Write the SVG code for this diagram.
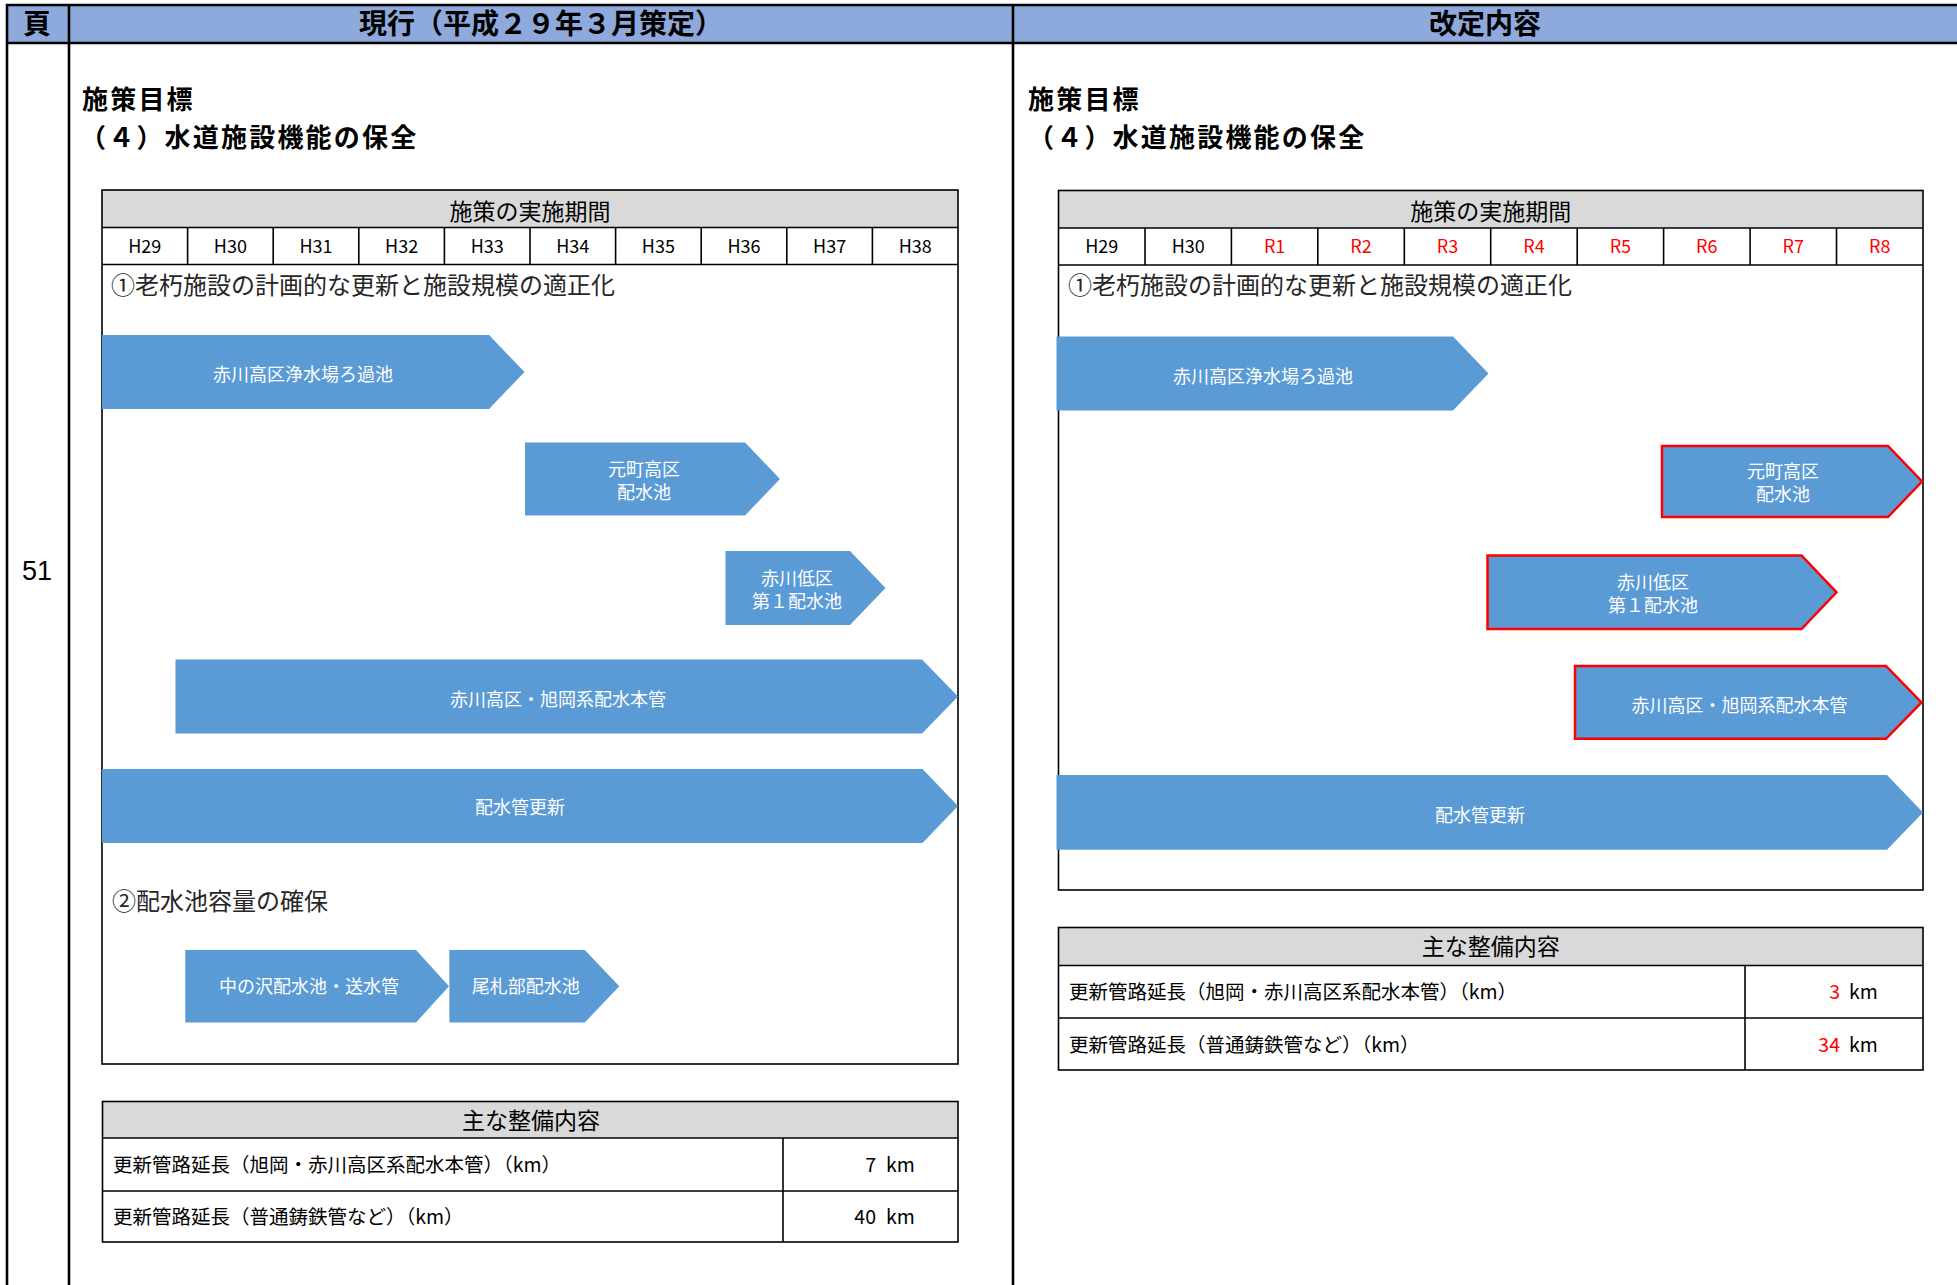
<svg xmlns="http://www.w3.org/2000/svg" width="1957" height="1285" viewBox="0 0 1957 1285">
<style>
  text { font-family: "Noto Sans CJK JP", "Noto Sans", sans-serif; fill: #000; }
  .hdr { font-size: 28px; font-weight: bold; text-anchor: middle; }
  .ttl { font-size: 26px; font-weight: bold; letter-spacing: 2.2px; }
  .sub { font-size: 23px; text-anchor: middle; }
  .yr { font-size: 18px; text-anchor: middle; }
  .red { fill: #FF0000; }
  .sec { font-size: 24px; fill: #262626; }
  .bar { fill: #5B9BD5; }
  .barR { fill: #5B9BD5; stroke: #FF0000; stroke-width: 2.5; }
  .bt { font-size: 18px; fill: #FFFFFF; text-anchor: middle; }
  .row { font-size: 19.5px; }
  .num { font-size: 19.5px; text-anchor: end; }
  .frame { fill: none; stroke: #000; stroke-width: 1.6; }
  .gray { fill: #D9D9D9; }
  .ln { stroke: #000; stroke-width: 1.6; }
  .pg { stroke: #000; stroke-width: 2.6; }
</style>

<g id="page">
  <rect x="6" y="5" width="1951" height="38" fill="#8EA9DB"/>
  <line class="pg" x1="6" y1="5" x2="1957" y2="5"/>
  <line class="pg" x1="6" y1="43" x2="1957" y2="43"/>
  <line class="pg" x1="7" y1="4" x2="7" y2="1285"/>
  <line class="pg" x1="69" y1="4" x2="69" y2="1285"/>
  <line class="pg" x1="1013" y1="4" x2="1013" y2="1285"/>
  <text class="hdr" x="37" y="34">頁</text>
  <text class="hdr" x="541" y="34">現行（平成２９年３月策定）</text>
  <text class="hdr" x="1485" y="34">改定内容</text>
  <text x="37" y="580" font-size="27" text-anchor="middle" style="font-family:'Liberation Sans',Arial,sans-serif">51</text>
</g>

<g id="left-title">
  <text class="ttl" x="82" y="109">施策目標</text>
  <text class="ttl" x="80" y="147">（４）水道施設機能の保全</text>
</g>

<g id="left-schedule">
  <rect class="gray" x="102" y="190" width="856" height="37.5"/>
  <rect class="frame" x="102" y="190" width="856" height="874"/>
  <line class="ln" x1="102" y1="227.5" x2="958" y2="227.5"/>
  <line class="ln" x1="102" y1="264.5" x2="958" y2="264.5"/>
  <line class="ln" x1="187.6" y1="227.5" x2="187.6" y2="264.5"/>
  <line class="ln" x1="273.2" y1="227.5" x2="273.2" y2="264.5"/>
  <line class="ln" x1="358.8" y1="227.5" x2="358.8" y2="264.5"/>
  <line class="ln" x1="444.4" y1="227.5" x2="444.4" y2="264.5"/>
  <line class="ln" x1="530" y1="227.5" x2="530" y2="264.5"/>
  <line class="ln" x1="615.6" y1="227.5" x2="615.6" y2="264.5"/>
  <line class="ln" x1="701.2" y1="227.5" x2="701.2" y2="264.5"/>
  <line class="ln" x1="786.8" y1="227.5" x2="786.8" y2="264.5"/>
  <line class="ln" x1="872.4" y1="227.5" x2="872.4" y2="264.5"/>
  <text class="sub" x="530" y="220">施策の実施期間</text>
  <text class="yr" x="144.8" y="253">H29</text>
  <text class="yr" x="230.4" y="253">H30</text>
  <text class="yr" x="316" y="253">H31</text>
  <text class="yr" x="401.6" y="253">H32</text>
  <text class="yr" x="487.2" y="253">H33</text>
  <text class="yr" x="572.8" y="253">H34</text>
  <text class="yr" x="658.4" y="253">H35</text>
  <text class="yr" x="744" y="253">H36</text>
  <text class="yr" x="829.6" y="253">H37</text>
  <text class="yr" x="915.2" y="253">H38</text>
  <text class="sec" x="111" y="294">①老朽施設の計画的な更新と施設規模の適正化</text>
  <text class="sec" x="112" y="910">②配水池容量の確保</text>
</g>

<g id="left-bars">
  <g id="L1">
    <polygon class="bar" points="102,335 489,335 524.5,372 489,409 102,409"/>
    <text class="bt" x="303" y="381">赤川高区浄水場ろ過池</text>
  </g>
  <g id="L2">
    <polygon class="bar" points="525,442.5 745,442.5 780,479 745,515.5 525,515.5"/>
    <text class="bt" x="644" y="476">元町高区</text>
    <text class="bt" x="644" y="499">配水池</text>
  </g>
  <g id="L3">
    <polygon class="bar" points="725.5,551 850,551 885.5,588 850,625 725.5,625"/>
    <text class="bt" x="797" y="584.5">赤川低区</text>
    <text class="bt" x="797" y="608">第１配水池</text>
  </g>
  <g id="L4">
    <polygon class="bar" points="175.5,659.5 922,659.5 958,696.5 922,733.5 175.5,733.5"/>
    <text class="bt" x="558" y="706">赤川高区・旭岡系配水本管</text>
  </g>
  <g id="L5">
    <polygon class="bar" points="102,769 922.5,769 958,806 922.5,843 102,843"/>
    <text class="bt" x="520" y="814">配水管更新</text>
  </g>
  <g id="L6">
    <polygon class="bar" points="185.3,950 416,950 449,986.3 416,1022.5 185.3,1022.5"/>
    <text class="bt" x="309" y="993">中の沢配水池・送水管</text>
  </g>
  <g id="L7">
    <polygon class="bar" points="449.4,950 584.8,950 619.3,986.3 584.8,1022.5 449.4,1022.5"/>
    <text class="bt" x="525.7" y="993">尾札部配水池</text>
  </g>
</g>

<g id="left-summary">
  <rect class="gray" x="102.5" y="1101.5" width="855.5" height="36.5"/>
  <rect class="frame" x="102.5" y="1101.5" width="855.5" height="140.5"/>
  <line class="ln" x1="102.5" y1="1138" x2="958" y2="1138"/>
  <line class="ln" x1="102.5" y1="1191" x2="958" y2="1191"/>
  <line class="ln" x1="783" y1="1138" x2="783" y2="1242"/>
  <text class="sub" x="531" y="1129">主な整備内容</text>
  <text class="row" x="113" y="1172">更新管路延長（旭岡・赤川高区系配水本管）（km）</text>
  <text class="row" x="113" y="1224">更新管路延長（普通鋳鉄管など）（km）</text>
  <text class="num" x="876" y="1172">7</text>
  <text class="row" x="886" y="1172">km</text>
  <text class="num" x="876" y="1224">40</text>
  <text class="row" x="886" y="1224">km</text>
</g>

<g id="right-title">
  <text class="ttl" x="1028" y="109">施策目標</text>
  <text class="ttl" x="1028" y="147">（４）水道施設機能の保全</text>
</g>

<g id="right-schedule">
  <rect class="gray" x="1058.5" y="190.5" width="864.5" height="37.5"/>
  <rect class="frame" x="1058.5" y="190.5" width="864.5" height="699.5"/>
  <line class="ln" x1="1058.5" y1="228" x2="1923" y2="228"/>
  <line class="ln" x1="1058.5" y1="265" x2="1923" y2="265"/>
  <line class="ln" x1="1145" y1="228" x2="1145" y2="265"/>
  <line class="ln" x1="1231.4" y1="228" x2="1231.4" y2="265"/>
  <line class="ln" x1="1317.8" y1="228" x2="1317.8" y2="265"/>
  <line class="ln" x1="1404.3" y1="228" x2="1404.3" y2="265"/>
  <line class="ln" x1="1490.7" y1="228" x2="1490.7" y2="265"/>
  <line class="ln" x1="1577.2" y1="228" x2="1577.2" y2="265"/>
  <line class="ln" x1="1663.6" y1="228" x2="1663.6" y2="265"/>
  <line class="ln" x1="1750.1" y1="228" x2="1750.1" y2="265"/>
  <line class="ln" x1="1836.5" y1="228" x2="1836.5" y2="265"/>
  <text class="sub" x="1490.7" y="220">施策の実施期間</text>
  <text class="yr" x="1101.7" y="253">H29</text>
  <text class="yr" x="1188.2" y="253">H30</text>
  <text class="yr red" x="1274.6" y="253">R1</text>
  <text class="yr red" x="1361" y="253">R2</text>
  <text class="yr red" x="1447.5" y="253">R3</text>
  <text class="yr red" x="1534" y="253">R4</text>
  <text class="yr red" x="1620.4" y="253">R5</text>
  <text class="yr red" x="1706.8" y="253">R6</text>
  <text class="yr red" x="1793.3" y="253">R7</text>
  <text class="yr red" x="1879.7" y="253">R8</text>
  <text class="sec" x="1068" y="294">①老朽施設の計画的な更新と施設規模の適正化</text>
</g>

<g id="right-bars">
  <g id="R1">
    <polygon class="bar" points="1056.5,336.5 1453,336.5 1488.5,373.5 1453,410.5 1056.5,410.5"/>
    <text class="bt" x="1263" y="383">赤川高区浄水場ろ過池</text>
  </g>
  <g id="R2">
    <polygon class="barR" points="1662,446 1888,446 1922,481.5 1888,517 1662,517"/>
    <text class="bt" x="1783" y="477.5">元町高区</text>
    <text class="bt" x="1783" y="501">配水池</text>
  </g>
  <g id="R3">
    <polygon class="barR" points="1487.5,555.5 1801.5,555.5 1836.5,592.3 1801.5,629 1487.5,629"/>
    <text class="bt" x="1653" y="588.5">赤川低区</text>
    <text class="bt" x="1653" y="612">第１配水池</text>
  </g>
  <g id="R4">
    <polygon class="barR" points="1575,666 1886,666 1921.5,702.4 1886,738.8 1575,738.8"/>
    <text class="bt" x="1739.4" y="711.5">赤川高区・旭岡系配水本管</text>
  </g>
  <g id="R5">
    <polygon class="bar" points="1056.5,775 1887,775 1923,812.4 1887,849.8 1056.5,849.8"/>
    <text class="bt" x="1480" y="822">配水管更新</text>
  </g>
</g>

<g id="right-summary">
  <rect class="gray" x="1058.5" y="927.5" width="864.5" height="38"/>
  <rect class="frame" x="1058.5" y="927.5" width="864.5" height="142.5"/>
  <line class="ln" x1="1058.5" y1="965.5" x2="1923" y2="965.5"/>
  <line class="ln" x1="1058.5" y1="1018" x2="1923" y2="1018"/>
  <line class="ln" x1="1745" y1="965.5" x2="1745" y2="1070"/>
  <text class="sub" x="1490.7" y="955">主な整備内容</text>
  <text class="row" x="1069" y="999">更新管路延長（旭岡・赤川高区系配水本管）（km）</text>
  <text class="row" x="1069" y="1052">更新管路延長（普通鋳鉄管など）（km）</text>
  <text class="num red" x="1840" y="999">3</text>
  <text class="row" x="1849" y="999">km</text>
  <text class="num red" x="1840" y="1052">34</text>
  <text class="row" x="1849" y="1052">km</text>
</g>
</svg>
